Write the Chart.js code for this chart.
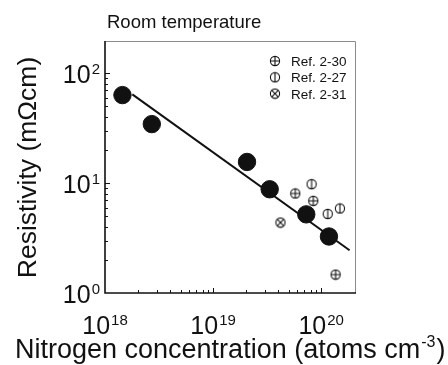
<!DOCTYPE html>
<html>
<head>
<meta charset="utf-8">
<script src="https://cdn.jsdelivr.net/npm/chart.js@4.4.1/dist/chart.umd.min.js"></script>
<style>
	html, body { margin: 0; padding: 0; background: #fff; }
	#wrap { width: 448px; height: 365px; }
</style>
</head>
<body>
<div id="wrap"><canvas id="chart" width="448" height="365"></canvas></div>
<script>
// this work: filled circles
const conc = [1.45e18, 2.71e18, 2.06e19, 3.34e19, 7.28e19, 1.18e20];
const resist = [63.4, 34.5, 15.6, 8.8, 5.2, 3.27];

// fitted line end points
const fitConc = [1.79e18, 1.83e20];
const fitRes = [64.4, 2.45];

// literature values
const ref30Conc = [5.76e19, 8.45e19, 1.36e20];
const ref30Res = [8.06, 6.9, 1.47];
const ref27Conc = [8.15e19, 1.15e20, 1.49e20];
const ref27Res = [9.8, 5.25, 5.88];
const ref31Conc = [4.2e19];
const ref31Res = [4.38];

const refLabels = ["Ref. 2-30", "Ref. 2-27", "Ref. 2-31"];

// axis ticks
const xDecades = [1e18, 1e19, 1e20];
const xExponents = ["18", "19", "20"];
const yDecades = [1, 10, 100];
const yExponents = ["0", "1", "2"];

const FONT = "'Liberation Sans', Arial, sans-serif";

function pairs(xs, ys){
	return xs.map((x, i) => ({x: x, y: ys[i]}));
}

function marker(kind){
	const c = document.createElement("canvas");
	c.width = 12;
	c.height = 12;
	const g = c.getContext("2d");
	const m = 6, r = 4.6;

	g.strokeStyle = "#111";
	g.lineWidth = 1.1;
	g.beginPath();
	g.arc(m, m, r, 0, Math.PI * 2);
	g.stroke();

	g.beginPath();
	if(kind == "plus"){
		g.moveTo(m - r, m); g.lineTo(m + r, m);
		g.moveTo(m, m - r); g.lineTo(m, m + r);
	} else if(kind == "bar"){
		g.moveTo(m, m - r); g.lineTo(m, m + r);
	} else {
		const d = r * 0.72;
		g.moveTo(m - d, m - d); g.lineTo(m + d, m + d);
		g.moveTo(m + d, m - d); g.lineTo(m - d, m + d);
	}
	g.stroke();

	return c;
}

const markers = [marker("plus"), marker("bar"), marker("cross")];

// "10" with a raised exponent
function powerLabel(ctx, exp, x, y, align, size){
	const big = size + "px " + FONT;
	const small = Math.round(size * 0.6) + "px " + FONT;

	ctx.font = big;
	const w1 = ctx.measureText("10").width;
	ctx.font = small;
	const w2 = ctx.measureText(exp).width;
	const total = w1 + 1 + w2;

	let left = x;
	if(align == "center") left = x - total / 2;
	if(align == "right") left = x - total;

	ctx.textAlign = "left";
	ctx.textBaseline = "alphabetic";
	ctx.font = big;
	ctx.fillText("10", left, y);
	ctx.font = small;
	ctx.fillText(exp, left + w1 + 1, y - size * 0.36);
}

const decorations = {
	id: "decorations",
	afterDraw(chart){
		const ctx = chart.ctx;
		const xs = chart.scales.x;
		const ys = chart.scales.y;
		const a = chart.chartArea;

		ctx.save();

		// frame
		ctx.lineWidth = 1;
		ctx.strokeStyle = "#8a8a8a";
		ctx.beginPath();
		ctx.moveTo(a.left, a.top + 0.5);
		ctx.lineTo(a.right - 0.5, a.top + 0.5);
		ctx.lineTo(a.right - 0.5, a.bottom);
		ctx.stroke();

		ctx.lineWidth = 1.6;
		ctx.strokeStyle = "#111";
		ctx.beginPath();
		ctx.moveTo(a.left, a.top);
		ctx.lineTo(a.left, a.bottom);
		ctx.lineTo(a.right, a.bottom);
		ctx.stroke();

		// inward ticks
		ctx.lineWidth = 1;
		ctx.beginPath();
		xDecades.forEach((d, i) => {
			const px = Math.round(xs.getPixelForValue(d)) + 0.5;
			if(i > 0){
				ctx.moveTo(px, a.bottom);
				ctx.lineTo(px, a.bottom - 5);
			}
			if(i < xDecades.length - 1){
				for(let k = 2; k <= 9; k++){
					const p = Math.round(xs.getPixelForValue(d * k)) + 0.5;
					ctx.moveTo(p, a.bottom);
					ctx.lineTo(p, a.bottom - 3);
				}
			}
		});
		yDecades.forEach((d, i) => {
			const py = Math.round(ys.getPixelForValue(d)) + 0.5;
			if(i > 0){
				ctx.moveTo(a.left, py);
				ctx.lineTo(a.left + 5, py);
			}
			if(i < yDecades.length - 1){
				for(let k = 2; k <= 9; k++){
					const p = Math.round(ys.getPixelForValue(d * k)) + 0.5;
					ctx.moveTo(a.left, p);
					ctx.lineTo(a.left + 3, p);
				}
			}
		});
		ctx.stroke();

		// tick labels
		ctx.fillStyle = "#111";
		xDecades.forEach((d, i) => {
			powerLabel(ctx, xExponents[i], xs.getPixelForValue(d), 334, "center", 25);
		});
		yDecades.forEach((d, i) => {
			powerLabel(ctx, yExponents[i], a.left - 5, ys.getPixelForValue(d) + 10, "right", 25);
		});

		// title
		ctx.font = "18.5px " + FONT;
		ctx.textAlign = "left";
		ctx.textBaseline = "alphabetic";
		ctx.fillText("Room temperature", 107, 27.5);

		// x axis title with cm^-3
		const xt = "Nitrogen concentration (atoms cm";
		ctx.font = "27px " + FONT;
		const wx = ctx.measureText(xt).width;
		ctx.fillText(xt, 15, 358);
		ctx.font = "16px " + FONT;
		const ws = ctx.measureText("-3").width;
		ctx.fillText("-3", 15 + wx + 1, 347);
		ctx.font = "27px " + FONT;
		ctx.fillText(")", 15 + wx + ws + 2, 358);

		// y axis title
		ctx.save();
		ctx.translate(36, 167.5);
		ctx.rotate(-Math.PI / 2);
		ctx.font = "26.5px " + FONT;
		ctx.textAlign = "center";
		ctx.fillText("Resistivity (m\u03A9cm)", 0, 0);
		ctx.restore();

		// legend
		ctx.font = "13.5px " + FONT;
		ctx.textAlign = "left";
		refLabels.forEach((t, i) => {
			const cy = 61 + i * 16.3;
			ctx.drawImage(markers[i], 275 - 6, cy - 6);
			ctx.fillText(t, 291, cy + 5);
		});

		ctx.restore();
	}
};

const chart = new Chart(document.getElementById("chart").getContext("2d"), {
	type: "scatter",
	data: {
		datasets: [
			{
				type: "line",
				label: "fit",
				data: pairs(fitConc, fitRes),
				borderColor: "#111",
				borderWidth: 2,
				pointRadius: 0,
				fill: false,
			},
			{
				label: "this work",
				data: pairs(conc, resist),
				backgroundColor: "#111",
				borderColor: "#111",
				pointRadius: 8.7,
			},
			{
				label: refLabels[0],
				data: pairs(ref30Conc, ref30Res),
				pointStyle: markers[0],
			},
			{
				label: refLabels[1],
				data: pairs(ref27Conc, ref27Res),
				pointStyle: markers[1],
			},
			{
				label: refLabels[2],
				data: pairs(ref31Conc, ref31Res),
				pointStyle: markers[2],
			},
		]
	},
	options: {
		responsive: false,
		animation: false,
		layout: {
			padding: {left: 105, top: 41, right: 92, bottom: 72}
		},
		plugins: {
			legend: {display: false},
			tooltip: {enabled: false},
		},
		scales: {
			x: {
				type: "logarithmic",
				min: 1e18,
				max: 2.1e20,
				display: false,
			},
			y: {
				type: "logarithmic",
				min: 1,
				max: 197,
				display: false,
			}
		}
	},
	plugins: [decorations]
});
</script>
</body>
</html>
